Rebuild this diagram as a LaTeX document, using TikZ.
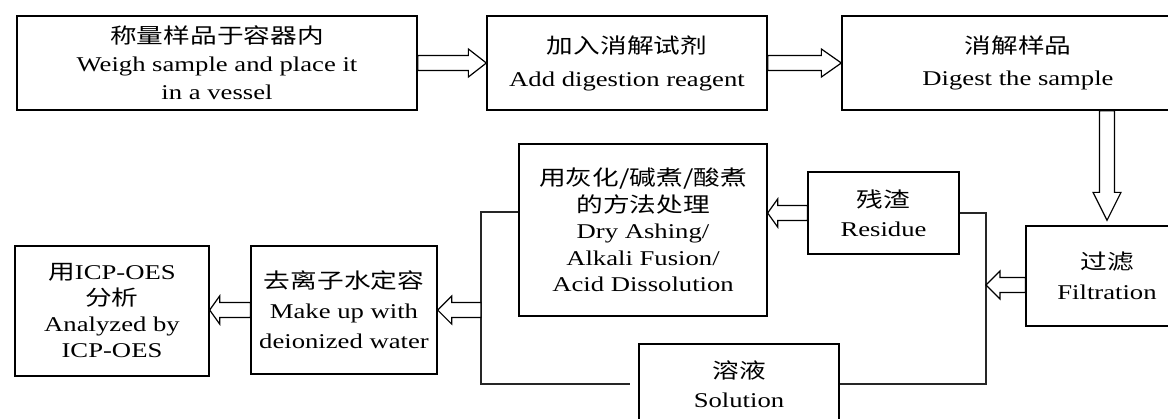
\documentclass[tikz,border=0pt]{standalone}
\usepackage{fontspec}
\setmainfont{Liberation Serif}[FakeStretch=1.27]
\newfontfamily\cjk{Noto Sans CJK SC}[FakeStretch=1.27]
\usetikzlibrary{calc}

% hollow block arrow: [head length]{tail}{tip}
\newcommand\hollow[3][14pt]{%
  \coordinate (hb) at ($#3!#1!#2$);
  \draw[arr] ($#2!7.5pt!90:#3$) -- ($(hb)!7.5pt!90:#3$) -- ($(hb)!14pt!90:#3$) -- #3
    -- ($(hb)!14pt!-90:#3$) -- ($(hb)!7.5pt!-90:#3$) -- ($#2!7.5pt!-90:#3$) -- cycle;
}

\begin{document}
\begin{tikzpicture}[x=1pt, y=-1pt,
    box/.style={draw, line width=1.3pt, align=center, inner sep=0pt},
    lh/.style={font=\fontsize{21}{#1}\selectfont},
    arr/.style={draw, fill=white, line width=1.2pt},
    link/.style={draw=black!85, line width=1.2pt}]
  \useasboundingbox[fill=white] (0,0) rectangle (1168,418);
  % top row
  \node[box, lh=28, minimum width=400, minimum height=94] (weigh) at (217,63) {{\cjk 称量样品于容器内}\\Weigh sample and place it\\in a vessel};
  \node[box, lh=33, minimum width=280, minimum height=94] (add) at (627,63) {{\cjk 加入消解试剂}\\Add digestion reagent};
  \node[box, lh=32, minimum width=352, minimum height=94] (digest) at (1018,63) {{\cjk 消解样品}\\Digest the sample};
  % right part
  \node[box, lh=30, minimum width=162, minimum height=100] (filt) at (1107,276) {{\cjk 过滤}\\Filtration};
  \node[box, lh=29, minimum width=151, minimum height=82] (res) at (883.5,213) {{\cjk 残渣}\\Residue};
  \node[box, lh=26.5, minimum width=248, minimum height=172] (dry) at (643,230) {{\cjk 用灰化/碱煮/酸煮}\\{\cjk 的方法处理}\\Dry Ashing/\\Alkali Fusion/\\Acid Dissolution};
  \node[box, lh=29, minimum width=200, minimum height=80] (sol) at (739,384) {{\cjk 溶液}\\Solution};
  % left part
  \node[box, lh=30, minimum width=186, minimum height=128] (make) at (344,310) {{\cjk 去离子水定容}\\Make up with\\deionized water};
  \node[box, lh=26, minimum width=194, minimum height=130] (icp) at (112,311) {{\cjk 用}ICP-OES\\{\cjk 分析}\\Analyzed by\\ICP-OES};

  \coordinate (split) at (986,285);
  \coordinate (merge) at (481,310);
  \coordinate (ftail) at ([yshift=-9pt]filt.west);
  \coordinate (dout) at (digest.south -| filt.north);
  \coordinate (fin) at ([yshift=5pt]filt.north);
  \coordinate (dryin) at (dry.east |- res.west);
  \coordinate (icpin) at (icp.east |- make.west);

  \draw[link] (res.east) -| (split) |- (sol.east);
  \draw[link] ([yshift=18pt]dry.west) -| (merge) |- ([xshift=-8pt]sol.west);

  \hollow[18pt]{(weigh.east)}{(add.west)}
  \hollow[20pt]{(add.east)}{(digest.west)}
  \hollow[28pt]{(dout)}{(fin)}
  \hollow{(ftail)}{(split)}
  \hollow[10pt]{(res.west)}{(dryin)}
  \hollow{(merge)}{(make.east)}
  \hollow[10pt]{(make.west)}{(icpin)}
\end{tikzpicture}
\end{document}
